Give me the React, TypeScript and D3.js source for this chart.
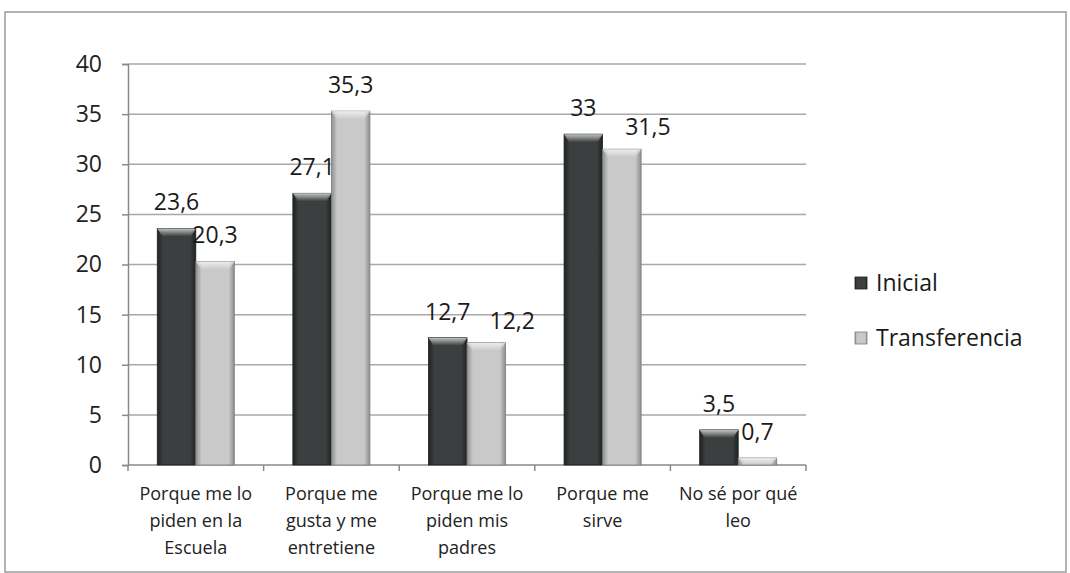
import React, { useEffect, useRef } from 'react';
import * as d3 from 'd3';

const categories = [
  ['Porque me lo', 'piden en la', 'Escuela'],
  ['Porque me', 'gusta y me', 'entretiene'],
  ['Porque me lo', 'piden mis', 'padres'],
  ['Porque me', 'sirve'],
  ['No sé por qué', 'leo'],
];
const inicial = [23.6, 27.1, 12.7, 33, 3.5];
const transferencia = [20.3, 35.3, 12.2, 31.5, 0.7];
const seriesNames = ['Inicial', 'Transferencia'];
const yTicks = [0, 5, 10, 15, 20, 25, 30, 35, 40];

const W = 1070;
const H = 573;
const FONT = '"Open Sans", "Noto Sans", sans-serif';

const App = () => {
  const ref = useRef<SVGSVGElement>(null);

  useEffect(() => {
    const svg = d3.select(ref.current);
    svg.selectAll('*').remove();

    const left = 128, right = 806, top = 64, bottom = 465;

    const defs = svg.append('defs');
    const grad = (id: string, edge: string, mid: string) => {
      const g = defs.append('linearGradient').attr('id', id).attr('x1', 0).attr('x2', 1).attr('y1', 0).attr('y2', 0);
      g.append('stop').attr('offset', '0%').attr('stop-color', edge);
      g.append('stop').attr('offset', '15%').attr('stop-color', mid);
      g.append('stop').attr('offset', '85%').attr('stop-color', mid);
      g.append('stop').attr('offset', '100%').attr('stop-color', edge);
    };
    grad('gDark', '#1f2222', '#3c3f3f');
    grad('gLight', '#8e8e8e', '#c9c9c9');
    const bevel = defs.append('linearGradient').attr('id', 'gBevel').attr('x1', 0).attr('x2', 0).attr('y1', 0).attr('y2', 1);
    bevel.append('stop').attr('offset', '0%').attr('stop-color', '#ffffff').attr('stop-opacity', 0.7);
    bevel.append('stop').attr('offset', '100%').attr('stop-color', '#ffffff').attr('stop-opacity', 0);

    svg.append('rect').attr('x', 5).attr('y', 12).attr('width', 1061).attr('height', 560)
      .attr('fill', 'white').attr('stroke', '#9a9a9a').attr('stroke-width', 1.5);

    const y = d3.scaleLinear().domain([0, 40]).range([bottom, top]);
    const x0 = d3.scaleBand().domain(d3.range(categories.length).map(String)).range([left, right]).paddingInner(0).paddingOuter(0);
    const x1 = d3.scaleBand().domain(seriesNames).range([0, x0.bandwidth()]).paddingOuter(0.76).paddingInner(0);

    // gridlines
    svg.append('g').selectAll('line').data(yTicks.filter(t => t > 0)).join('line')
      .attr('x1', left).attr('x2', right)
      .attr('y1', d => y(d)).attr('y2', d => y(d))
      .attr('stroke', '#a8a8a8').attr('stroke-width', 1.5);

    // y axis
    const yAxis = svg.append('g').attr('transform', `translate(${left},0)`)
      .call(d3.axisLeft(y).tickValues(yTicks).tickSize(6).tickPadding(20));
    yAxis.select('.domain').attr('stroke', '#8a8a8a').attr('stroke-width', 1.5);
    yAxis.selectAll('line').attr('stroke', '#8a8a8a').attr('stroke-width', 1.5);
    yAxis.selectAll('text').attr('font-family', FONT).attr('font-size', 23).attr('fill', '#222');

    // x axis
    const xAxisG = svg.append('g');
    xAxisG.append('line').attr('x1', left).attr('x2', right).attr('y1', bottom).attr('y2', bottom)
      .attr('stroke', '#8a8a8a').attr('stroke-width', 1.5);
    const bounds = d3.range(categories.length + 1).map(i => left + i * x0.bandwidth());
    xAxisG.selectAll('line.tk').data(bounds).join('line').attr('class', 'tk')
      .attr('x1', d => d).attr('x2', d => d).attr('y1', bottom).attr('y2', bottom + 6)
      .attr('stroke', '#8a8a8a').attr('stroke-width', 1.5);

    // category labels
    categories.forEach((lines, i) => {
      const cx = (x0(String(i)) as number) + x0.bandwidth() / 2;
      const t = svg.append('text').attr('text-anchor', 'middle').attr('font-family', FONT)
        .attr('font-size', 18).attr('fill', '#222');
      lines.forEach((ln, j) => {
        t.append('tspan').attr('x', cx).attr('y', 500 + j * 27).text(ln);
      });
    });

    // bars
    const series = [inicial, transferencia];
    series.forEach((vals, s) => {
      const g = svg.append('g');
      vals.forEach((v, i) => {
        const bx = (x0(String(i)) as number) + (x1(seriesNames[s]) as number);
        const bw = x1.bandwidth();
        const by = y(v);
        const bh = bottom - by;
        g.append('rect').attr('x', bx).attr('y', by).attr('width', bw).attr('height', bh)
          .attr('fill', s === 0 ? 'url(#gDark)' : 'url(#gLight)')
          .attr('stroke', s === 0 ? '#1c1e1e' : '#7d7d7d').attr('stroke-width', 0.8);
        const bev = Math.min(8, bh);
        g.append('path')
          .attr('d', `M${bx},${by} L${bx + bw},${by} L${bx + bw - 5},${by + bev} L${bx + 5},${by + bev} Z`)
          .attr('fill', 'url(#gBevel)');
        // second label nudged right when it would collide with its neighbour
        const clash = s === 1 && Math.abs(y(inicial[i]) - by) < 26;
        svg.append('text').attr('x', bx + bw / 2 + (clash ? 26 : 0)).attr('y', by - (clash ? 14 : 18))
          .attr('text-anchor', 'middle').attr('font-family', FONT).attr('font-size', 23).attr('fill', '#1a1a1a')
          .text(String(v).replace('.', ','));
      });
    });

    // legend
    const legend = svg.append('g');
    seriesNames.forEach((name, i) => {
      const ly = 277 + i * 55;
      legend.append('rect').attr('x', 855).attr('y', ly).attr('width', 12).attr('height', 12)
        .attr('fill', i === 0 ? 'url(#gDark)' : 'url(#gLight)')
        .attr('stroke', i === 0 ? '#1c1e1e' : '#7d7d7d').attr('stroke-width', 0.8);
      legend.append('text').attr('x', 876).attr('y', ly + 14).attr('font-family', FONT)
        .attr('font-size', 23).attr('fill', '#1a1a1a').text(name);
    });
  }, []);

  return (
    <svg ref={ref} width={W} height={H} style={{ position: 'absolute', left: 0, top: 0, background: 'white' }} />
  );
};

export default App;
